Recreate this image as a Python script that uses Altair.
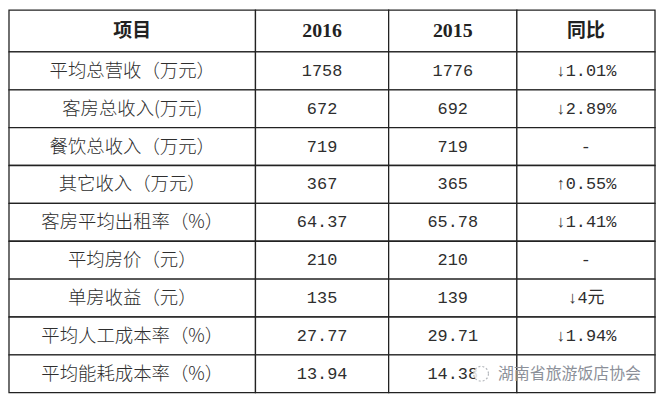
import altair as alt
import pandas as pd
import numpy as np

# ---- data ----
headers = ["项目", "2016", "2015", "同比"]
items = ["平均总营收（万元）", "客房总收入(万元)", "餐饮总收入（万元）", "其它收入（万元）",
         "客房平均出租率（%）", "平均房价（元）", "单房收益（元）", "平均人工成本率（%）",
         "平均能耗成本率（%）"]
v2016 = ["1758", "672", "719", "367", "64.37", "210", "135", "27.77", "13.94"]
v2015 = ["1776", "692", "719", "365", "65.78", "210", "139", "29.71", "14.38"]
yoy = ["↓1.01%", "↓2.89%", "-", "↑0.55%", "↓1.41%", "-", "↓4元", "↓1.94%", ""]
watermark = "湖南省旅游饭店协会"

# ---- layout (table grid geometry, kept apart from the data) ----
col_widths = [248, 134, 129, 139]
header_h = 42
row_h = 38.1
LINE = "#222222"
TXT = "#2e2e2e"
CJK = "Noto Sans CJK SC"
MONO = "'Liberation Mono', 'Noto Sans CJK SC'"
SERIF = "'Liberation Serif', 'Noto Sans CJK SC'"

n = len(items)
W = sum(col_widths)
H = header_h + row_h * n
x_edges = np.concatenate([[0], np.cumsum(col_widths)])
y_edges = np.concatenate([[0], header_h + row_h * np.arange(n + 1)])

columns = [items, v2016, v2015, yoy]
kinds = ["item", "num", "num", "num"]
head_kinds = ["hcjk", "hnum", "hnum", "hcjk"]

records = []
for c in range(4):
    records.append(dict(x0=x_edges[c], x1=x_edges[c + 1], y0=y_edges[0], y1=y_edges[1],
                        label=headers[c], kind=head_kinds[c]))
    for r in range(n):
        records.append(dict(x0=x_edges[c], x1=x_edges[c + 1], y0=y_edges[r + 1],
                            y1=y_edges[r + 2], label=columns[c][r], kind=kinds[c]))
df = pd.DataFrame(records)
df["xm"] = (df.x0 + df.x1) / 2
df["ym"] = (df.y0 + df.y1) / 2

xs = alt.Scale(domain=[0, W], range=[0, W], nice=False, zero=False)
ys = alt.Scale(domain=[0, H], range=[0, H], nice=False, zero=False)
X = lambda f: alt.X(f, type="quantitative", scale=xs, axis=None)
Y = lambda f: alt.Y(f, type="quantitative", scale=ys, axis=None)

base = alt.Chart(df)
rects = base.mark_rect(fill="white", stroke=LINE, strokeWidth=1.3).encode(
    x=X("x0"), x2="x1", y=Y("y0"), y2="y1")


def text_layer(kind, **kw):
    return base.transform_filter(alt.datum.kind == kind).mark_text(
        align="center", baseline="middle", **kw).encode(x=X("xm"), y=Y("ym"), text="label:N")


t_hcjk = text_layer("hcjk", font=CJK, fontSize=19, fontWeight="bold", color="#222222")
t_hnum = text_layer("hnum", font=SERIF, fontSize=20, fontWeight="bold", color="#222222")
t_item = text_layer("item", font=CJK, fontSize=18.5, fontWeight=300, color=TXT)
t_num = text_layer("num", font=MONO, fontSize=17, color=TXT)

# watermark overlay in the last row
last_mid = (y_edges[-2] + y_edges[-1]) / 2
wm = pd.DataFrame({"label": [watermark], "xi": [x_edges[2] + 93], "xt": [x_edges[2] + 110],
                   "ym": [last_mid]})
icon = alt.Chart(wm).mark_point(shape="circle", size=220, filled=True, fill="white",
                                fillOpacity=0.85, stroke="#b5b8bd", strokeWidth=1.2,
                                strokeDash=[2, 2]).encode(x=X("xi"), y=Y("ym"))
wtext = alt.Chart(wm).mark_text(font=CJK, fontSize=16, color="#8c9099", align="left",
                                baseline="middle").encode(x=X("xt"), y=Y("ym"), text="label:N")

chart = alt.layer(rects, t_hcjk, t_hnum, t_item, t_num, icon, wtext).properties(
    width=W, height=H, padding=0, background="white"
).configure_view(stroke=None)

chart.save("out.html", embed_options={"renderer": "svg", "actions": False})
